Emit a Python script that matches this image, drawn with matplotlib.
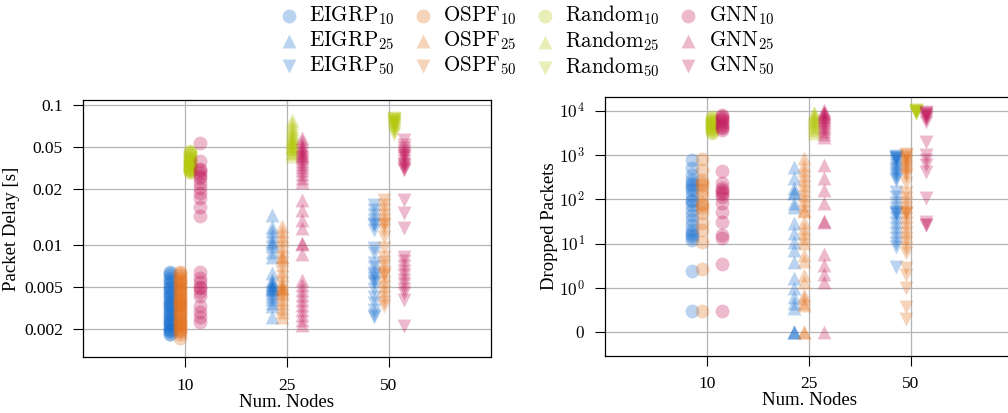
import matplotlib
matplotlib.use('Agg')
import matplotlib.pyplot as plt
import numpy as np

plt.rcParams['font.family'] = 'serif'
plt.rcParams['font.serif'] = ['Liberation Serif', 'DejaVu Serif']
plt.rcParams['mathtext.fontset'] = 'cm'

NODES = ["10", "25", "50"]
ALGOS = ["EIGRP", "OSPF", "Random", "GNN"]
COLORS = ["#1a70d0", "#e3711c", "#b5c90f", "#c2185b"]
MARKERS = ["o", "^", "v"]
OFFSETS = [-0.15, -0.05, 0.05, 0.15]

# packet delay [s] per run
delay_eigrp_10 = [0.0064, 0.0062, 0.0060, 0.0058, 0.0056, 0.0054, 0.0052, 0.0050, 0.0049, 0.0047,
                  0.0046, 0.0044, 0.0043, 0.0042, 0.0040, 0.0039, 0.0038, 0.0037, 0.0036, 0.0035,
                  0.0034, 0.0033, 0.0032, 0.0031, 0.0030, 0.0029, 0.0029, 0.0028, 0.0027, 0.0027,
                  0.0026, 0.0025, 0.0025, 0.0024, 0.0024, 0.0023, 0.0023]
delay_ospf_10 = [0.0064, 0.0062, 0.0060, 0.0058, 0.0056, 0.0055, 0.0053, 0.0051, 0.0050, 0.0048,
                 0.0047, 0.0045, 0.0044, 0.0042, 0.0041, 0.0040, 0.0039, 0.0038, 0.0037, 0.0036,
                 0.0035, 0.0034, 0.0033, 0.0032, 0.0031, 0.0030, 0.0029, 0.0028, 0.0028, 0.0027,
                 0.0026, 0.0026, 0.0025, 0.0024, 0.0024, 0.0023, 0.00215]
delay_random_10 = [0.047, 0.046, 0.045, 0.044, 0.043, 0.042, 0.041, 0.040, 0.040, 0.039, 0.038,
                   0.038, 0.037, 0.037, 0.036, 0.036, 0.035, 0.035, 0.034, 0.034, 0.033, 0.033]
delay_gnn_10 = [0.0537, 0.0397, 0.0348, 0.0340, 0.0325, 0.0310, 0.0300, 0.0277, 0.0255, 0.0235,
                0.0216, 0.0187, 0.0160, 0.0064, 0.0058, 0.0054, 0.0050, 0.0049, 0.0046, 0.0043,
                0.0036, 0.0033, 0.0030, 0.0028]

delay_eigrp_25 = [0.0163, 0.0134, 0.0124, 0.0115, 0.0106, 0.0102, 0.0098, 0.0089, 0.0082, 0.0063,
                  0.0056, 0.0054, 0.0052, 0.0051, 0.0050, 0.0049, 0.0048, 0.0047, 0.0045, 0.0043,
                  0.0041, 0.0038, 0.0036, 0.0030]
delay_ospf_25 = [0.0135, 0.0125, 0.0115, 0.0107, 0.0098, 0.0090, 0.0083, 0.0082, 0.0078, 0.0071,
                 0.0065, 0.0060, 0.0055, 0.0052, 0.0050, 0.0049, 0.0048, 0.0046, 0.0044, 0.0041,
                 0.0038, 0.0035, 0.0033, 0.0030]
delay_random_25 = [0.078, 0.074, 0.070, 0.067, 0.064, 0.062, 0.060, 0.058, 0.057, 0.055, 0.054,
                   0.053, 0.052, 0.051, 0.050, 0.049, 0.048, 0.046, 0.045, 0.043]
delay_gnn_25 = [0.058, 0.055, 0.052, 0.050, 0.048, 0.047, 0.045, 0.044, 0.043, 0.042, 0.040,
                0.038, 0.036, 0.034, 0.032, 0.030, 0.028, 0.0208, 0.0177, 0.0150, 0.0131,
                0.0102, 0.0101, 0.0086, 0.00558, 0.00514, 0.00474, 0.00436, 0.00402, 0.0037,
                0.0034, 0.00314, 0.00289, 0.00266]

delay_eigrp_50 = [0.0192, 0.0177, 0.0163, 0.0150, 0.0140, 0.0138, 0.0127, 0.0095, 0.0087, 0.0074,
                  0.0069, 0.0063, 0.0060, 0.0058, 0.0055, 0.0053, 0.0048, 0.0042, 0.0038, 0.0034,
                  0.0031, 0.0030]
delay_ospf_50 = [0.0208, 0.0192, 0.0177, 0.0163, 0.0150, 0.0140, 0.0138, 0.0127, 0.0113, 0.0095,
                 0.0082, 0.0075, 0.0070, 0.0064, 0.0061, 0.0059, 0.0054, 0.0050, 0.0046, 0.0042,
                 0.0039, 0.0036]
delay_random_50 = [0.081, 0.080, 0.079, 0.078, 0.077, 0.076, 0.075, 0.074, 0.073, 0.072, 0.071,
                   0.070, 0.068, 0.066, 0.064, 0.062]
delay_gnn_50 = [0.056, 0.052, 0.049, 0.047, 0.045, 0.044, 0.043, 0.042, 0.040, 0.038, 0.037,
                0.036, 0.035, 0.034, 0.0208, 0.0167, 0.0131, 0.0082, 0.0076, 0.0070, 0.0065,
                0.0060, 0.0056, 0.0052, 0.0048, 0.0045, 0.0040, 0.0026]

# dropped packets per run
drops_eigrp_10 = [776, 505, 356, 274, 240, 211, 180, 163, 126, 97, 90, 75, 58, 44, 34, 26, 20, 17,
                  15.7, 14, 12.1, 2.4, 0.49]
drops_ospf_10 = [804, 462, 274, 240, 211, 163, 126, 81.6, 75, 64, 48.5, 28.9, 20.4, 11.1, 2.64, 0.49]
drops_random_10 = [7200, 6800, 6300, 5900, 5500, 5200, 4900, 4600, 4400, 4100, 3900, 3600, 3400, 3150]
drops_gnn_10 = [8000, 7500, 7000, 6400, 5800, 5300, 4800, 4400, 4000, 3700, 438, 231, 181, 160,
                147, 130, 115, 81.6, 52.8, 31.4, 15.7, 13.2, 3.48, 0.49]

drops_eigrp_25 = [548, 299, 181, 149, 140, 81.6, 68, 29, 17, 11.1, 7.2, 3.9, 1.66, 0.99, 0.80,
                  0.65, 0.54, 0, 0, 0]
drops_ospf_25 = [860, 600, 460, 356, 274, 211, 163, 126, 97, 75, 58, 55, 31, 22.6, 17.3, 13.4,
                 10.4, 5.56, 4.07, 1.97, 1.36, 0.84, 0.77, 0.65, 0.62, 0, 0]
drops_random_25 = [9400, 8500, 7800, 7200, 6600, 6000, 5500, 5000, 4500, 4000, 3600, 3200]
drops_gnn_25 = [10400, 9600, 9000, 8400, 7800, 7200, 6500, 5900, 5200, 4600, 4000, 3500, 3000,
                2600, 598, 304, 163, 81.6, 32.6, 31, 5.85, 3.3, 2.07, 1.36, 0]

drops_eigrp_50 = [930, 906, 880, 850, 776, 700, 598, 520, 462, 400, 356, 300, 274, 147, 113, 84,
                  64, 52, 49, 46, 38, 29.4, 22.6, 17.4, 13.4, 10.4, 8.4, 3.03]
drops_ospf_50 = [1060, 980, 906, 820, 736, 650, 568, 500, 438, 380, 338, 235, 139, 108, 84, 64,
                 52, 49, 46, 38, 29.4, 22.6, 17.4, 13.4, 11.1, 8.0, 6.2, 2.8, 1.96, 0.99, 0.58, 0.29]
drops_random_50 = [10500, 10200, 10000, 9800, 9500, 9200, 9000, 8800]
drops_gnn_50 = [9400, 9000, 8600, 8200, 7600, 7000, 6400, 5600, 1970, 1000, 776, 598, 420, 106,
                31.4, 26.3, 26.0]

delay = {
    "10": [delay_eigrp_10, delay_ospf_10, delay_random_10, delay_gnn_10],
    "25": [delay_eigrp_25, delay_ospf_25, delay_random_25, delay_gnn_25],
    "50": [delay_eigrp_50, delay_ospf_50, delay_random_50, delay_gnn_50],
}
drops = {
    "10": [drops_eigrp_10, drops_ospf_10, drops_random_10, drops_gnn_10],
    "25": [drops_eigrp_25, drops_ospf_25, drops_random_25, drops_gnn_25],
    "50": [drops_eigrp_50, drops_ospf_50, drops_random_50, drops_gnn_50],
}

fig = plt.figure(figsize=(10.08, 4.13), dpi=100)
ax1 = fig.add_axes([0.0823, 0.1344, 0.4048, 0.6235])
ax2 = fig.add_axes([0.6002, 0.138, 0.4048, 0.627])


def scatter_groups(ax, data):
    handles = {}
    for i, n in enumerate(NODES):
        for j, algo in enumerate(ALGOS):
            vals = data[n][j]
            x = np.full(len(vals), i + OFFSETS[j])
            h = ax.scatter(x, vals, s=100, marker=MARKERS[i], color=COLORS[j],
                           alpha=0.3, linewidths=0, zorder=3)
            handles[(algo, n)] = h
    return handles


def style_axis(ax):
    ax.set_xlim(-1, 3)
    ax.set_xticks(range(len(NODES)))
    ax.set_xticklabels(NODES)
    ax.set_xlabel("Num. Nodes", fontsize=13.5, labelpad=0)
    ax.grid(True, color="#b4b4b4", linewidth=0.9)
    ax.set_axisbelow(True)
    ax.yaxis.set_minor_locator(matplotlib.ticker.NullLocator())
    ax.tick_params(axis="both", which="major", direction="out", length=7.5, width=0.8,
                   labelsize=12.5, pad=7)
    for sp in ax.spines.values():
        sp.set_linewidth(0.9)


handles = scatter_groups(ax1, delay)
scatter_groups(ax2, drops)

ax1.set_yscale("log")
ax1.set_ylim(0.00155, 0.1086)
ax1.set_yticks([0.0025, 0.005, 0.01, 0.025, 0.05, 0.1])
ax1.set_yticklabels(["0.002", "0.005", "0.01", "0.02", "0.05", "0.1"])
ax1.set_ylabel("Packet Delay [s]", fontsize=13.5, labelpad=3)
style_axis(ax1)

ax2.set_yscale("symlog", linthresh=1, linscale=0.9)
ax2.set_ylim(-0.535, 20370)
ax2.set_yticks([0, 1, 10, 100, 1000, 10000])
ax2.set_yticklabels([r"$0$", r"$10^{0}$", r"$10^{1}$", r"$10^{2}$", r"$10^{3}$", r"$10^{4}$"],
                    fontsize=13.5)
ax2.set_ylabel("Dropped Packets", fontsize=13.5, labelpad=1)
style_axis(ax2)

leg_handles = []
leg_labels = []
for algo in ALGOS:
    for n in NODES:
        leg_handles.append(handles[(algo, n)])
        leg_labels.append(r"$\mathrm{%s}_{%s}$" % (algo, n))
fig.legend(leg_handles, leg_labels, loc="upper center", bbox_to_anchor=(0.522, 1.028), ncol=4,
           frameon=False, fontsize=15.2, scatterpoints=1, handlelength=1.0, handletextpad=0.45,
           columnspacing=0.85, labelspacing=0.12, borderpad=0.2)

plt.savefig("out.png", dpi=100)
